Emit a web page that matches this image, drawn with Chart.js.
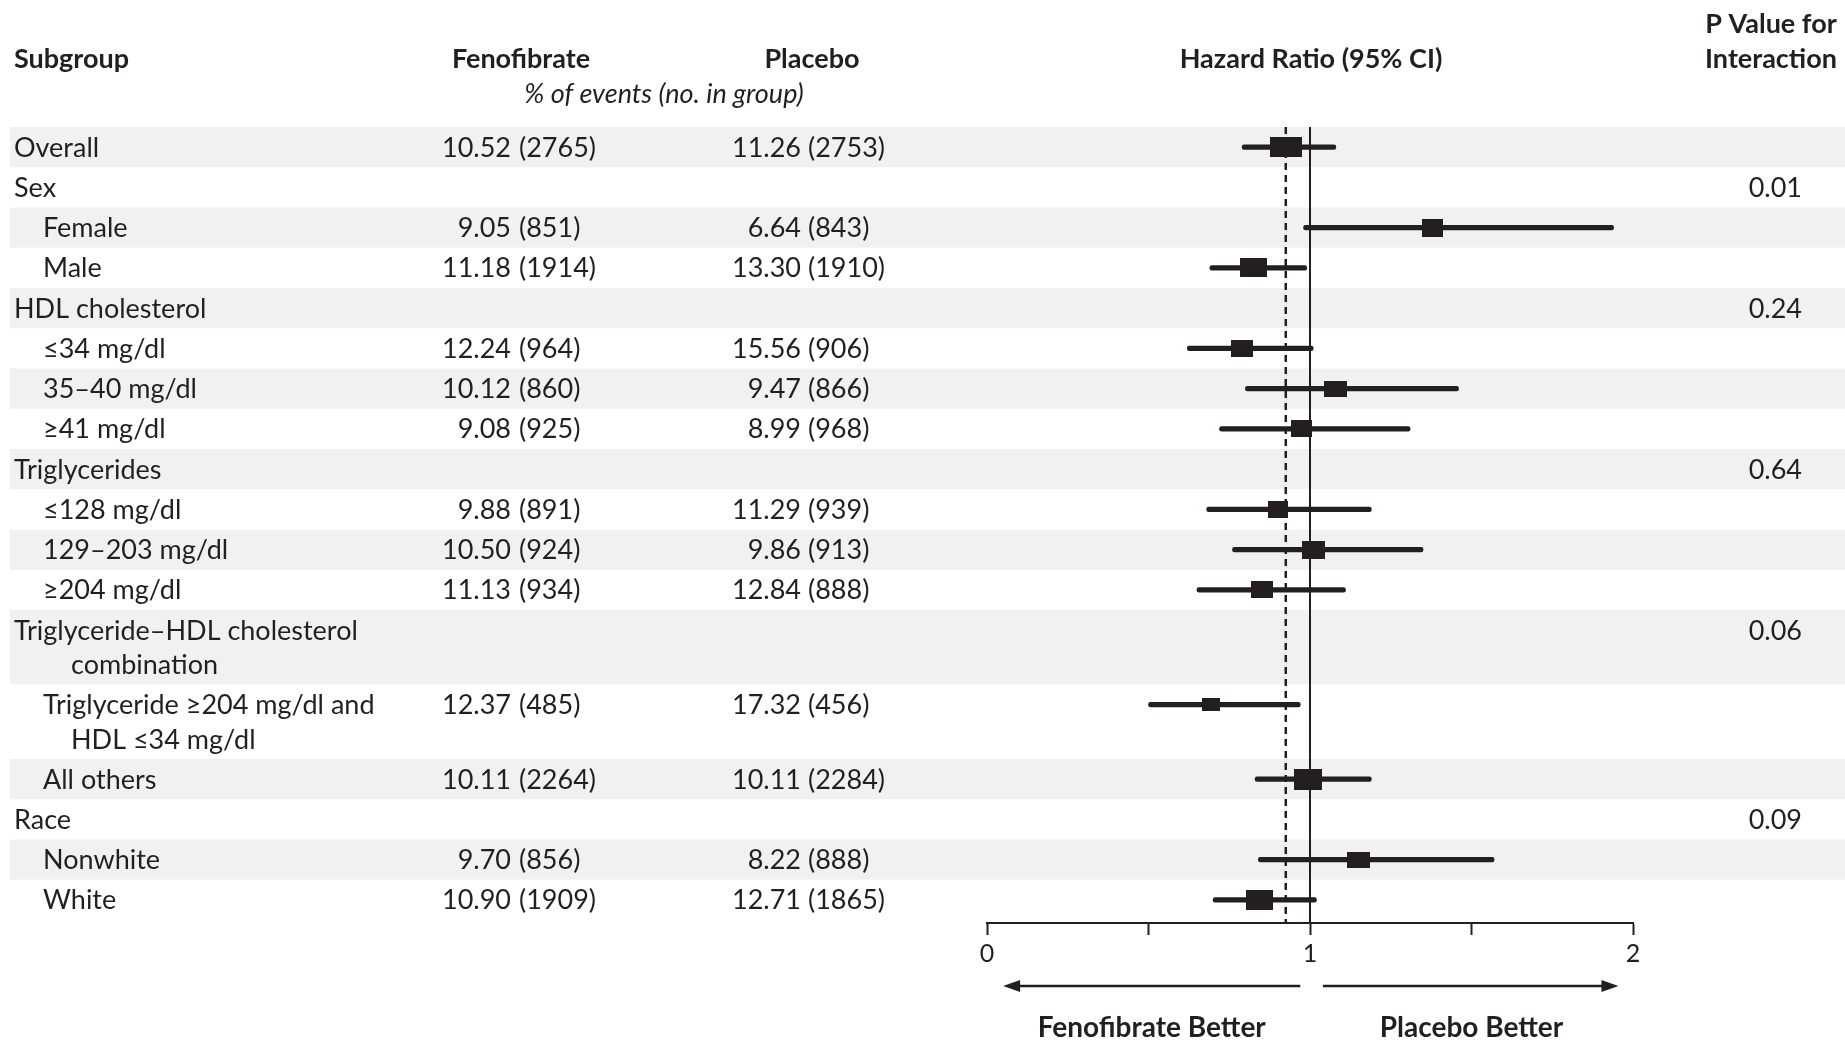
<!DOCTYPE html>
<html>
<head>
<meta charset="utf-8">
<title>Fenofibrate vs placebo by subgroup</title>
<script src="https://cdn.jsdelivr.net/npm/chart.js@4.4.1/dist/chart.umd.min.js"></script>
<style>
  html, body { margin: 0; padding: 0; background: #fff; }
  #wrap { width: 1845px; height: 1041px; }
</style>
</head>
<body>
<div id="wrap"><canvas id="forest" width="1845" height="1041"></canvas></div>
<script>
// ---- data ----
const subgroupLabels = [
  'Overall', 'Sex', 'Female', 'Male',
  'HDL cholesterol', '≤34 mg/dl', '35–40 mg/dl', '≥41 mg/dl',
  'Triglycerides', '≤128 mg/dl', '129–203 mg/dl', '≥204 mg/dl',
  'Triglyceride–HDL cholesterol\ncombination',
  'Triglyceride ≥204 mg/dl and\nHDL ≤34 mg/dl',
  'All others', 'Race', 'Nonwhite', 'White'
];
const subgroupLevel = [0, 0, 1, 1, 0, 1, 1, 1, 0, 1, 1, 1, 0, 1, 1, 0, 1, 1];
const fenofibratePct = ['10.52', null, '9.05', '11.18', null, '12.24', '10.12', '9.08', null, '9.88', '10.50', '11.13', null, '12.37', '10.11', null, '9.70', '10.90'];
const fenofibrateN = [2765, null, 851, 1914, null, 964, 860, 925, null, 891, 924, 934, null, 485, 2264, null, 856, 1909];
const placeboPct = ['11.26', null, '6.64', '13.30', null, '15.56', '9.47', '8.99', null, '11.29', '9.86', '12.84', null, '17.32', '10.11', null, '8.22', '12.71'];
const placeboN = [2753, null, 843, 1910, null, 906, 866, 968, null, 939, 913, 888, null, 456, 2284, null, 888, 1865];
const hazardRatio = [0.925, null, 1.38, 0.825, null, 0.79, 1.08, 0.975, null, 0.90, 1.01, 0.85, null, 0.695, 0.995, null, 1.15, 0.845];
const ciLower = [0.79, null, 0.98, 0.69, null, 0.62, 0.80, 0.72, null, 0.68, 0.76, 0.65, null, 0.50, 0.83, null, 0.84, 0.70];
const ciUpper = [1.08, null, 1.94, 0.99, null, 1.01, 1.46, 1.31, null, 1.19, 1.35, 1.11, null, 0.97, 1.19, null, 1.57, 1.02];
const pInteraction = [null, '0.01', null, null, '0.24', null, null, null, '0.64', null, null, null, '0.06', null, null, '0.09', null, null];
const hrTicks = [0, 0.5, 1, 1.5, 2];
const hrTickLabels = ['0', '', '1', '', '2'];

// ---- look ----
const INK = '#231f20';
const BAND = '#f1f1f1';
const FONT = 'Lato, "Open Sans", sans-serif';
// box sizes (px) per subgroup, roughly by weight
const boxW = [32, 0, 21, 27, 0, 22, 23, 21, 0, 20, 23, 22, 0, 18, 28, 0, 23, 27];
const boxH = [20, 0, 18, 19, 0, 17, 16, 17, 0, 17, 18, 17, 0, 13, 21, 0, 16, 20];

// rows stacked on a linear y scale, two-line rows are a bit tighter
const DOUBLE_ROW = 1.85;
const rowTop = [];
let units = 0;
subgroupLabels.forEach(label => {
    rowTop.push(units);
    units += label.includes('\n') ? DOUBLE_ROW : 1;
});
const lineY = (i, k) => rowTop[i] + 0.5 + k * 0.86;

function boxImage(w, h) {
    const c = document.createElement('canvas');
    c.width = w;
    c.height = h;
    const g = c.getContext('2d');
    g.fillStyle = INK;
    g.fillRect(0, 0, w, h);
    return c;
}

const ciData = [];
const hrData = [];
const hrBoxes = [];
hazardRatio.forEach((hr, i) => {
    if (hr === null) return;
    ciData.push({ x: [ciLower[i], ciUpper[i]], y: lineY(i, 0) });
    hrData.push({ x: hr, y: lineY(i, 0) });
    hrBoxes.push(boxImage(boxW[i], boxH[i]));
});

function text(ctx, s, x, y, align, font) {
    ctx.font = font;
    ctx.textAlign = align;
    ctx.textBaseline = 'alphabetic';
    ctx.fillStyle = INK;
    ctx.fillText(s, x, y);
}

function arrow(ctx, x1, x2, y) {
    const dir = Math.sign(x2 - x1);
    ctx.strokeStyle = INK;
    ctx.fillStyle = INK;
    ctx.lineWidth = 2.5;
    ctx.beginPath();
    ctx.moveTo(x1, y);
    ctx.lineTo(x2 - dir * 12, y);
    ctx.stroke();
    ctx.beginPath();
    ctx.moveTo(x2, y);
    ctx.lineTo(x2 - dir * 17, y - 6);
    ctx.lineTo(x2 - dir * 17, y + 6);
    ctx.closePath();
    ctx.fill();
}

const forestDecor = {
    id: 'forestDecor',
    beforeDraw(chart) {
        const { ctx } = chart;
        const y = chart.scales.y;
        ctx.save();
        ctx.fillStyle = BAND;
        subgroupLabels.forEach((label, i) => {
            if (i % 2) return;
            const top = y.getPixelForValue(rowTop[i]);
            const h = label.includes('\n') ? DOUBLE_ROW : 1;
            const bottom = y.getPixelForValue(rowTop[i] + h);
            ctx.fillRect(10, top, chart.width - 10, bottom - top);
        });
        ctx.restore();
    },
    beforeDatasetsDraw(chart) {
        const { ctx, chartArea } = chart;
        const x = chart.scales.x;
        ctx.save();
        ctx.strokeStyle = INK;
        // line of no effect
        ctx.lineWidth = 2;
        ctx.beginPath();
        ctx.moveTo(x.getPixelForValue(1), chartArea.top);
        ctx.lineTo(x.getPixelForValue(1), chartArea.bottom);
        ctx.stroke();
        // overall estimate
        ctx.lineWidth = 2.5;
        ctx.setLineDash([7, 5]);
        ctx.beginPath();
        ctx.moveTo(x.getPixelForValue(hazardRatio[0]), chartArea.top);
        ctx.lineTo(x.getPixelForValue(hazardRatio[0]), chartArea.bottom);
        ctx.stroke();
        ctx.restore();
    },
    afterDraw(chart) {
        const { ctx } = chart;
        const x = chart.scales.x;
        const y = chart.scales.y;
        const reg = '27px ' + FONT;
        const bold = 'bold 27px ' + FONT;
        ctx.save();

        // column heads
        text(ctx, 'Subgroup', 14, 68, 'left', bold);
        text(ctx, 'Fenofibrate', 521, 68, 'center', bold);
        text(ctx, 'Placebo', 812, 68, 'center', bold);
        text(ctx, '% of events (no. in group)', 664, 103, 'center', 'italic 27px ' + FONT);
        text(ctx, 'Hazard Ratio (95% CI)', 1311, 68, 'center', bold);
        text(ctx, 'P Value for', 1771, 33, 'center', bold);
        text(ctx, 'Interaction', 1771, 68, 'center', bold);

        // table body
        subgroupLabels.forEach((label, i) => {
            const base = y.getPixelForValue(lineY(i, 0)) + 9.5;
            label.split('\n').forEach((part, k) => {
                const lx = k > 0 ? 71 : (subgroupLevel[i] ? 43 : 14);
                text(ctx, part, lx, y.getPixelForValue(lineY(i, k)) + 9.5, 'left', reg);
            });
            if (fenofibratePct[i] !== null) {
                text(ctx, fenofibratePct[i], 511, base, 'right', reg);
                text(ctx, '(' + fenofibrateN[i] + ')', 519, base, 'left', reg);
                text(ctx, placeboPct[i], 801, base, 'right', reg);
                text(ctx, '(' + placeboN[i] + ')', 808, base, 'left', reg);
            }
            if (pInteraction[i] !== null) {
                text(ctx, pInteraction[i], 1802, base, 'right', reg);
            }
        });

        // direction arrows
        const ay = 986;
        arrow(ctx, x.getPixelForValue(0.97), x.getPixelForValue(0.05), ay);
        arrow(ctx, x.getPixelForValue(1.04), x.getPixelForValue(1.955), ay);
        text(ctx, 'Fenofibrate Better', x.getPixelForValue(0.51), 1037, 'center', 'bold 28px ' + FONT);
        text(ctx, 'Placebo Better', x.getPixelForValue(1.5), 1037, 'center', 'bold 28px ' + FONT);
        ctx.restore();
    }
};

new Chart(document.getElementById('forest'), {
    type: 'bar',
    data: {
        datasets: [
            {
                type: 'scatter',
                data: hrData,
                pointStyle: hrBoxes,
                pointRadius: 10,
                backgroundColor: INK,
                borderWidth: 0,
                order: 0
            },
            {
                type: 'bar',
                indexAxis: 'y',
                data: ciData,
                backgroundColor: INK,
                barThickness: 4.5,
                borderRadius: 2.25,
                borderSkipped: false,
                order: 1
            }
        ]
    },
    options: {
        responsive: false,
        devicePixelRatio: 1,
        animation: false,
        events: [],
        layout: { padding: { left: 987, right: 212, top: 127, bottom: 0 } },
        plugins: { legend: { display: false }, tooltip: { enabled: false } },
        scales: {
            x: {
                type: 'linear',
                min: 0,
                max: 2,
                offset: false,
                afterBuildTicks: s => { s.ticks = hrTicks.map(v => ({ value: v })); },
                afterFit: s => { s.height = 118; },
                grid: { offset: false, drawOnChartArea: false, drawTicks: true, tickLength: 12, tickWidth: 2, color: INK },
                border: { display: true, color: INK, width: 2 },
                ticks: {
                    callback: (v, i) => hrTickLabels[i],
                    font: { family: FONT, size: 25 },
                    color: INK,
                    padding: 4,
                    maxRotation: 0,
                    autoSkip: false
                }
            },
            y: {
                type: 'linear',
                min: 0,
                max: units + 0.075,   // small gap above the axis line
                reverse: true,
                offset: false,
                grid: { offset: false },
                display: false
            }
        }
    },
    plugins: [forestDecor]
});
</script>
</body>
</html>
